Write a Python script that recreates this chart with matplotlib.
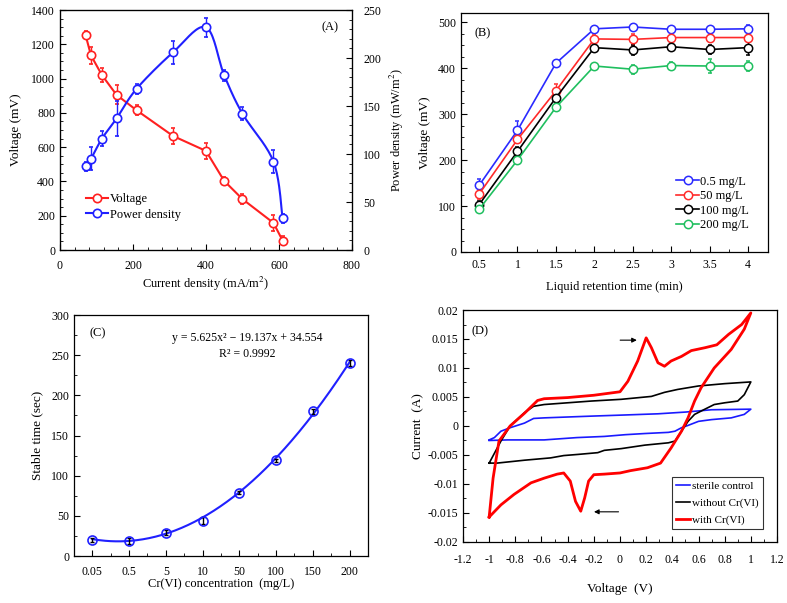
import numpy as np
import matplotlib
matplotlib.use("Agg")
import matplotlib.pyplot as plt
from matplotlib.ticker import MultipleLocator, FixedLocator, FuncFormatter
from matplotlib.lines import Line2D

plt.rcParams['font.family'] = ['Liberation Serif', 'DejaVu Serif']
plt.rcParams['mathtext.fontset'] = 'stix'

# ---------------- Panel A data ----------------
a_current = [70, 85, 115, 155, 210, 310, 400, 450, 500, 585, 610]
a_voltage = [1255, 1135, 1020, 905, 815, 665, 578, 403, 297, 158, 55]
a_voltage_err = [20, 50, 40, 55, 30, 45, 45, 20, 30, 45, 25]
a_power = [87, 95, 116, 137, 168, 206, 232, 182, 142, 92, 33]
a_power_err = [5, 12, 8, 18, 5, 12, 10, 6, 7, 12, 5]

# ---------------- Panel B data ----------------
b_times = ["0.5", "1", "1.5", "2", "2.5", "3", "3.5", "4"]
b_labels = ["0.5 mg/L", "50 mg/L", "100 mg/L", "200 mg/L"]
b_v05 = [145, 265, 411, 486, 490, 485, 485, 486]
b_v50 = [126, 245, 351, 464, 463, 467, 467, 467]
b_v100 = [103, 219, 336, 445, 440, 447, 441, 445]
b_v200 = [93, 200, 315, 405, 398, 406, 405, 405]
b_e05 = [15, 20, 8, 6, 6, 6, 6, 8]
b_e50 = [10, 8, 15, 8, 12, 6, 6, 6]
b_e100 = [8, 10, 8, 10, 10, 8, 10, 15]
b_e200 = [6, 6, 6, 5, 10, 8, 15, 10]

# ---------------- Panel C data ----------------
c_conc = ["0.05", "0.5", "5", "10", "50", "100", "150", "200"]
c_time = [20, 19, 29, 44, 79, 119, 180, 240]
c_err = [2, 4, 3, 4, 2, 2, 3, 4]
c_fit = [5.625, -19.137, 34.554]

# ---------------- Panel D data (CV loops) ----------------
d_red_v = [-1.0, -0.97, -0.925, -0.84, -0.73, -0.63, -0.58, -0.4, -0.2, 0.0, 0.06, 0.135, 0.2,
           0.24, 0.29, 0.34, 0.39, 0.47, 0.545, 0.65, 0.74, 0.83, 0.93, 1.0,
           0.95, 0.85, 0.72, 0.62, 0.57, 0.52, 0.47, 0.39, 0.31, 0.21, 0.08, 0.0, -0.12, -0.2,
           -0.24, -0.27, -0.3, -0.34, -0.38, -0.43, -0.48, -0.58, -0.68, -0.81, -0.91, -1.0]
d_red_i = [-0.0157, -0.009, -0.0026, 0.0, 0.0022, 0.0044, 0.0047, 0.0049, 0.0053, 0.0059, 0.0077, 0.0112, 0.0152,
           0.0135, 0.0109, 0.0103, 0.0112, 0.012, 0.013, 0.0135, 0.014, 0.0158, 0.0175, 0.0195,
           0.0167, 0.0132, 0.0100, 0.0066, 0.0043, 0.0014, -0.0009, -0.0038, -0.0064, -0.0072, -0.0077, -0.0081, -0.0083, -0.0084,
           -0.0095, -0.0124, -0.0147, -0.013, -0.0095, -0.0081, -0.0083, -0.009, -0.0098, -0.0118, -0.0136, -0.0157]
d_black_v = [-1.0, -0.91, -0.84, -0.73, -0.66, -0.58, -0.22, 0.01, 0.24, 0.34, 0.44, 0.6, 0.8, 1.0,
             0.95, 0.9, 0.8, 0.72, 0.64, 0.57, 0.52, 0.47, 0.42, 0.37, 0.19, 0.01, -0.12, -0.17,
             -0.32, -0.43, -0.53, -0.73, -0.94, -1.0]
d_black_i = [-0.0064, -0.0026, 0.0, 0.0023, 0.0034, 0.0037, 0.0043, 0.0046, 0.0051, 0.0058, 0.0063, 0.0069, 0.0073, 0.0076,
             0.0054, 0.0043, 0.0040, 0.0037, 0.0028, 0.0020, 0.0008, -0.0009, -0.0026, -0.0029, -0.0033, -0.0039, -0.0042, -0.0046,
             -0.0049, -0.0051, -0.0055, -0.0059, -0.0064, -0.0064]
d_blue_v = [-1.0, -0.96, -0.91, -0.84, -0.73, -0.66, -0.58, -0.22, 0.04, 0.29, 0.5, 0.7, 1.0,
            0.95, 0.85, 0.7, 0.6, 0.52, 0.47, 0.42, 0.37, 0.19, 0.04, -0.12, -0.33, -0.58, -0.86, -1.0]
d_blue_i = [-0.0024, -0.002, -0.0009, -0.0003, 0.0005, 0.0013, 0.0014, 0.0017, 0.0019, 0.0021, 0.0024, 0.0028, 0.0029,
            0.0020, 0.0014, 0.0011, 0.0008, 0.0001, -0.0003, -0.0009, -0.0011, -0.0013, -0.0015, -0.0018, -0.0020, -0.0024, -0.0024, -0.0025]
d_labels = ["sterile control", "without Cr(VI)", "with Cr(VI)"]


def catmull(xs, ys, n=20):
    p = np.column_stack([xs, ys]).astype(float)
    p = np.vstack([p[0], p, p[-1]])
    out = []
    for i in range(1, len(p) - 2):
        p0, p1, p2, p3 = p[i - 1], p[i], p[i + 1], p[i + 2]
        t = np.linspace(0, 1, n, endpoint=False)[:, None]
        seg = 0.5 * ((2 * p1) + (-p0 + p2) * t + (2 * p0 - 5 * p1 + 4 * p2 - p3) * t ** 2
                     + (-p0 + 3 * p1 - 3 * p2 + p3) * t ** 3)
        out.append(seg)
    out.append(p[-2][None, :])
    out = np.vstack(out)
    return out[:, 0], out[:, 1]


def style_ax(ax, xpad=3.5):
    ax.tick_params(which='both', direction='in', labelsize=8.5, top=False, right=False)
    ax.tick_params(which='major', length=4)
    ax.tick_params(which='minor', length=2.5)
    ax.tick_params(axis='x', which='major', pad=xpad)
    for s in ax.spines.values():
        s.set_linewidth(0.9)


fig = plt.figure(figsize=(7.87, 6.03), dpi=100)

# ---------------- Panel A ----------------
axA = fig.add_axes([0.0762, 0.5854, 0.371, 0.398])
axA2 = axA.twinx()
red = '#ff2020'
blue = '#2020ff'
axA.errorbar(a_current, a_voltage, yerr=a_voltage_err, color=red, lw=1.5, marker='o', ms=6,
             mfc='white', mec=red, mew=1.2, capsize=1.5, elinewidth=1, zorder=3)
sx, sy = catmull(a_current, a_power)
axA2.plot(sx, sy, color=blue, lw=1.5, zorder=3)
axA2.errorbar(a_current, a_power, yerr=a_power_err, color=blue, lw=0, marker='o', ms=6,
              mfc='white', mec=blue, mew=1.2, capsize=1.5, elinewidth=1, ecolor=blue, zorder=4)
axA.set_xlim(0, 800)
axA.set_ylim(0, 1400)
axA2.set_ylim(0, 250)
axA.xaxis.set_major_locator(MultipleLocator(200))
axA.xaxis.set_minor_locator(MultipleLocator(40))
axA.yaxis.set_major_locator(MultipleLocator(200))
axA.yaxis.set_minor_locator(MultipleLocator(50))
axA2.yaxis.set_major_locator(MultipleLocator(50))
axA2.yaxis.set_minor_locator(MultipleLocator(10))
style_ax(axA, xpad=7)
axA2.tick_params(which='both', direction='in', labelsize=8.5, right=True, left=False)
axA2.tick_params(which='major', length=4, pad=8)
axA2.tick_params(which='minor', length=2.5)
axA.set_xlabel("Current density (mA/m$^2$)", fontsize=9, labelpad=2)
axA.set_ylabel("Voltage (mV)", fontsize=9.5, labelpad=7)
axA2.set_ylabel("Power density (mW/m$^2$)", fontsize=9, labelpad=5)
axA.text(0.925, 0.93, "(A)", transform=axA.transAxes, fontsize=9, ha='center', va='center')
hA = [Line2D([], [], color=red, lw=1.5, marker='o', ms=6, mfc='white', mec=red, mew=1.2),
      Line2D([], [], color=blue, lw=1.5, marker='o', ms=6, mfc='white', mec=blue, mew=1.2)]
axA.legend(hA, ["Voltage", "Power density"], loc='lower left', bbox_to_anchor=(0.05, 0.075),
           frameon=False, fontsize=9, handlelength=1.8, handletextpad=0.1, labelspacing=0.3)

# ---------------- Panel B ----------------
axB = fig.add_axes([0.5858, 0.5821, 0.390, 0.396])
xb = np.arange(len(b_times))
cols_b = ['#2a2aff', '#ff2a2a', '#000000', '#1fbf5f']
for vals, errs, c, lab in zip([b_v05, b_v50, b_v100, b_v200], [b_e05, b_e50, b_e100, b_e200], cols_b, b_labels):
    axB.errorbar(xb, vals, yerr=errs, color=c, lw=1.2, marker='o', ms=6, mfc='white', mec=c,
                 mew=1.1, capsize=1.5, elinewidth=1, label=lab)
axB.set_xlim(-0.47, 7.52)
axB.set_ylim(0, 520)
axB.xaxis.set_major_locator(FixedLocator(xb))
axB.set_xticklabels(b_times)
axB.xaxis.set_minor_locator(FixedLocator(xb[:-1] + 0.5))
axB.yaxis.set_major_locator(MultipleLocator(100))
axB.yaxis.set_minor_locator(MultipleLocator(25))
style_ax(axB, xpad=5)
axB.set_xlabel("Liquid retention time (min)", fontsize=9, labelpad=7)
axB.set_ylabel("Voltage (mV)", fontsize=9.5, labelpad=5)
axB.text(0.07, 0.915, "(B)", transform=axB.transAxes, fontsize=9, ha='center', va='center')
hB = [Line2D([], [], color=c, lw=1.2, marker='o', ms=6, mfc='white', mec=c, mew=1.1) for c in cols_b]
axB.legend(hB, b_labels, loc='lower left', bbox_to_anchor=(0.665, 0.04), frameon=False, fontsize=9,
           handlelength=1.8, handletextpad=0.1, labelspacing=0.2)

# ---------------- Panel C ----------------
axC = fig.add_axes([0.094, 0.0779, 0.3736, 0.3997])
xc = np.arange(len(c_conc))
xfit = np.linspace(1, len(c_conc), 200)
yfit = c_fit[0] * xfit ** 2 + c_fit[1] * xfit + c_fit[2]
axC.plot(xfit - 1, yfit, color=blue, lw=1.5, zorder=2)
axC.errorbar(xc, c_time, yerr=c_err, fmt='none', ecolor='black', elinewidth=1, capsize=1.5, zorder=3)
axC.plot(xc, c_time, ls='none', marker='o', ms=6.5, mfc='none', mec=blue, mew=1.2, zorder=4)
axC.set_xlim(-0.5, 7.5)
axC.set_ylim(0, 300)
axC.xaxis.set_major_locator(FixedLocator(xc))
axC.set_xticklabels(c_conc)
axC.xaxis.set_minor_locator(FixedLocator(xc[:-1] + 0.5))
axC.yaxis.set_major_locator(MultipleLocator(50))
axC.yaxis.set_minor_locator(MultipleLocator(25))
style_ax(axC, xpad=7)
axC.set_xlabel("Cr(VI) concentration  (mg/L)", fontsize=9, labelpad=0)
axC.set_ylabel("Stable time (sec)", fontsize=9.5, labelpad=6)
axC.text(0.08, 0.925, "(C)", transform=axC.transAxes, fontsize=9, ha='center', va='center')
axC.text(0.59, 0.905, "y = 5.625x² − 19.137x + 34.554", transform=axC.transAxes, fontsize=8.5,
         ha='center', va='center')
axC.text(0.59, 0.84, "R² = 0.9992", transform=axC.transAxes, fontsize=8.5, ha='center', va='center')

# ---------------- Panel D ----------------
axD = fig.add_axes([0.5883, 0.1012, 0.399, 0.3847])
axD.plot(d_blue_v, d_blue_i, color='#1a1aff', lw=1.2, label=d_labels[0])
axD.plot(d_black_v, d_black_i, color='black', lw=1.2, label=d_labels[1])
axD.plot(d_red_v, d_red_i, color='#ff0000', lw=2.0, label=d_labels[2])
axD.set_xlim(-1.2, 1.2)
axD.set_ylim(-0.02, 0.02)
axD.xaxis.set_major_locator(MultipleLocator(0.2))
axD.xaxis.set_minor_locator(MultipleLocator(0.1))
axD.yaxis.set_major_locator(MultipleLocator(0.005))
axD.yaxis.set_minor_locator(MultipleLocator(0.0025))
style_ax(axD, xpad=9)
axD.xaxis.set_major_formatter(FuncFormatter(lambda v, p: f"{round(v, 1):g}"))
axD.yaxis.set_major_formatter(FuncFormatter(lambda v, p: f"{round(v, 3):g}"))
axD.set_xlabel("Voltage  (V)", fontsize=9.5, labelpad=12)
axD.set_ylabel("Current  (A)", fontsize=9.5, labelpad=2)
axD.text(0.054, 0.91, "(D)", transform=axD.transAxes, fontsize=9, ha='center', va='center')
axD.annotate("", xy=(0.15, 0.0148), xytext=(-0.02, 0.0148),
             arrowprops=dict(arrowstyle='-|>', color='black', lw=0.8, mutation_scale=7))
axD.annotate("", xy=(-0.22, -0.0148), xytext=(0.01, -0.0148),
             arrowprops=dict(arrowstyle='-|>', color='black', lw=0.8, mutation_scale=7))
legD = axD.legend(loc='lower right', bbox_to_anchor=(0.955, 0.055), fontsize=8, frameon=True,
                  fancybox=False, edgecolor='black', handlelength=1.3, handletextpad=0.2,
                  labelspacing=0.65, borderpad=0.35, borderaxespad=0)
legD.get_frame().set_linewidth(0.8)

fig.savefig("out.png", dpi=100)
